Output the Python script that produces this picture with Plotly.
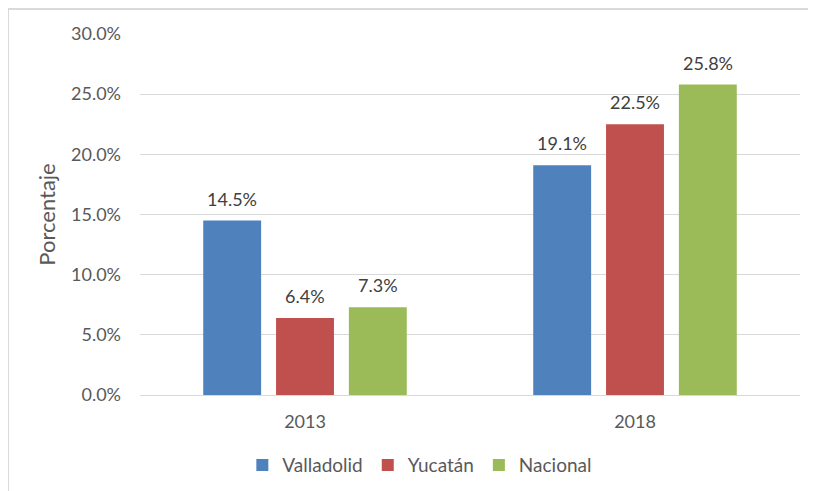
import plotly.graph_objects as go

categories = ["2013", "2018"]
series_names = ["Valladolid", "Yucatán", "Nacional"]
valladolid = [14.5, 19.1]
yucatan = [6.4, 22.5]
nacional = [7.3, 25.8]
colors = ["#4F81BD", "#C0504D", "#9BBB59"]
y_ticks = [0, 5, 10, 15, 20, 25, 30]

FONT = "Lato, 'Open Sans', sans-serif"
TXT = "#595959"

BARGAP = 0.338
GROUPGAP = 0.205

fig = go.Figure()
all_series = [valladolid, yucatan, nacional]
for name, vals, col in zip(series_names, all_series, colors):
    fig.add_trace(go.Bar(
        x=categories, y=vals, name=name,
        marker=dict(color=col, line=dict(width=0)),
    ))

# data labels above each bar
slot = (1 - BARGAP) / len(all_series)
for k, vals in enumerate(all_series):
    off = (k - (len(all_series) - 1) / 2) * slot
    for i, v in enumerate(vals):
        fig.add_annotation(x=i + off, y=v, xref="x", yref="y", text=f"{v:.1f}%",
                           showarrow=False, yanchor="bottom", yshift=9,
                           font=dict(family=FONT, size=18, color="#404040"))

fig.update_layout(
    width=816, height=491,
    margin=dict(l=132, r=24, t=26, b=104, autoexpand=False),
    paper_bgcolor="white", plot_bgcolor="white",
    barmode="group", bargap=BARGAP, bargroupgap=GROUPGAP,
    font=dict(family=FONT, size=18, color=TXT),
    showlegend=True,
    legend=dict(orientation="h", x=0.424, xanchor="center", y=-0.194, yanchor="middle",
                font=dict(family=FONT, size=19, color=TXT), itemwidth=30,
                traceorder="normal"),
    xaxis=dict(showgrid=False, showline=True, linecolor="#d9d9d9", linewidth=1,
               tickfont=dict(family=FONT, size=18, color=TXT), ticks="", ticklabelstandoff=10,
               automargin=False, range=[-0.5, 1.5]),
    yaxis=dict(range=[0, 30], tickvals=y_ticks, ticktext=[f"{v:.1f}%" for v in y_ticks],
               showgrid=True, gridcolor="#d9d9d9", gridwidth=1, zeroline=False,
               showline=False, ticks="", ticklabelstandoff=18, automargin=False,
               tickfont=dict(family=FONT, size=18, color=TXT),
               title=dict(text="Porcentaje", font=dict(family=FONT, size=22, color=TXT), standoff=9)),
)

fig.add_shape(type="rect", xref="paper", yref="paper",
              x0=-132 / 660, x1=1.2, y0=-0.5, y1=1 + 25 / 361,
              line=dict(color="#d9d9d9", width=2), layer="below")

fig.write_html("out.html")
